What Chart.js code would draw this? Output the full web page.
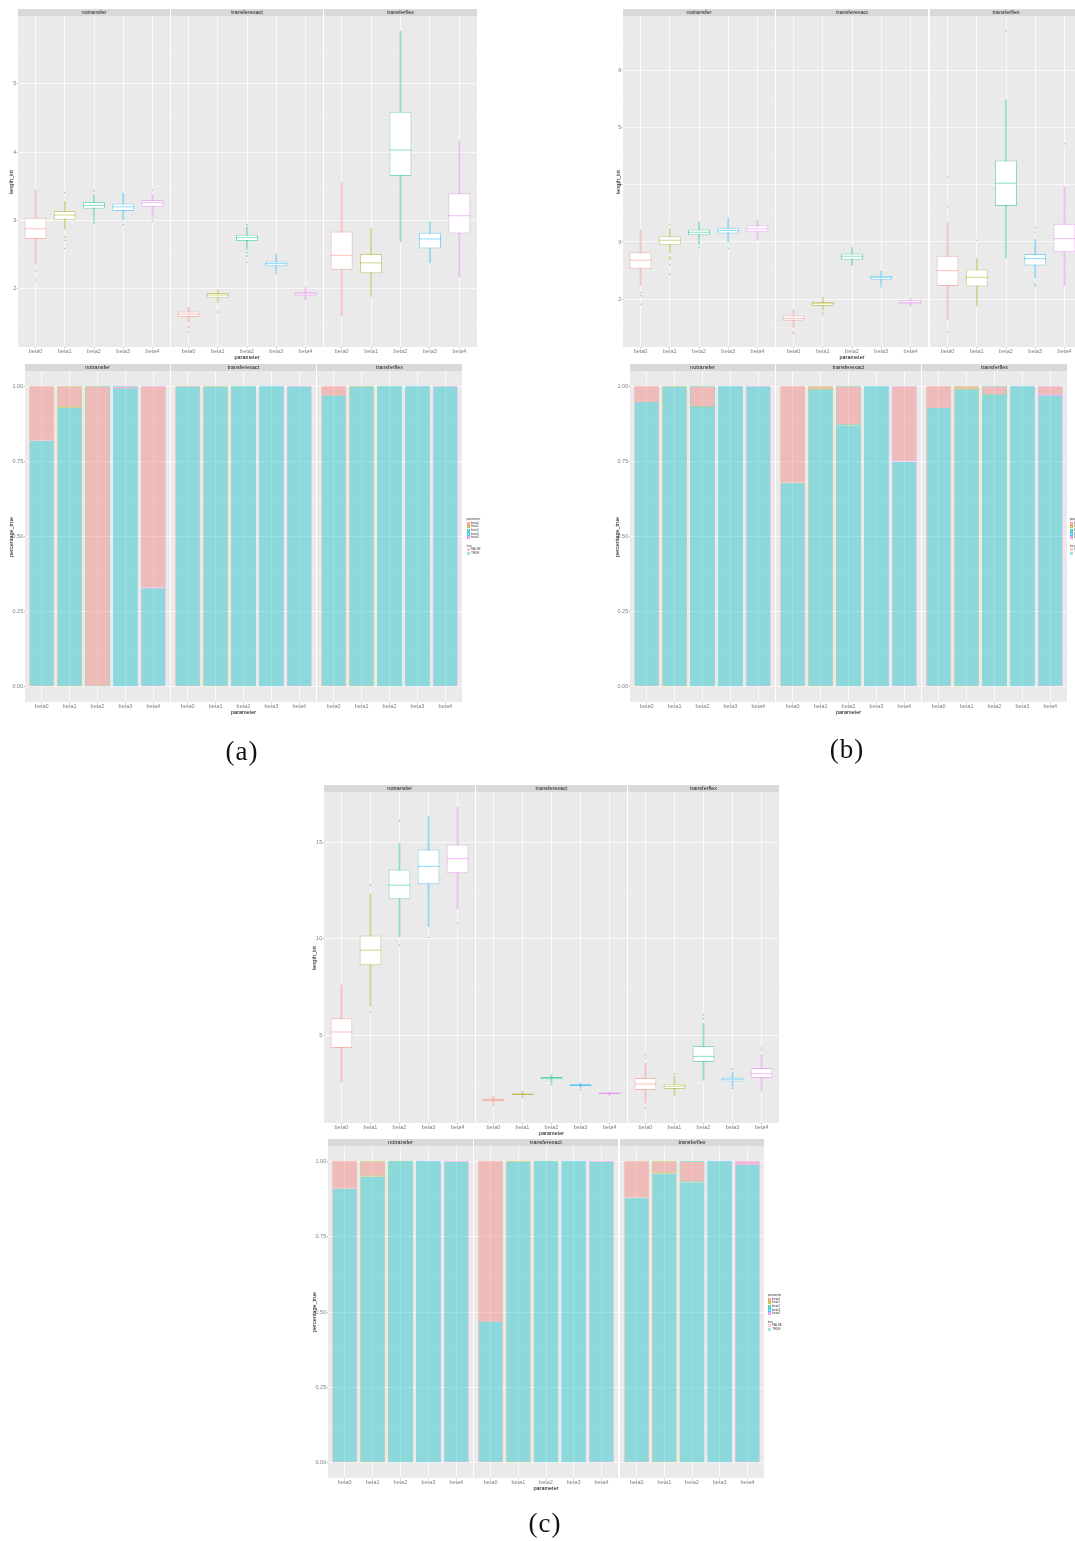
<!DOCTYPE html>
<html>
<head>
<meta charset="utf-8">
<script src="https://cdn.jsdelivr.net/npm/chart.js@4"></script>
<style>
  html, body { margin: 0; padding: 0; background: #fff; }
  body { position: relative; width: 1075px; height: 1541px; overflow: hidden;
         font-family: "Liberation Sans", Arial, sans-serif; }
  canvas { position: absolute; display: block; }
  .strip { position: absolute; height: 7px; background: #D9D9D9; color: #1A1A1A;
           font-size: 5.5px; line-height: 7px; text-align: center; white-space: nowrap; overflow: hidden; }
  .ytitle { position: absolute; font-size: 5.5px; color: #000; white-space: nowrap;
            transform: translate(-50%, -50%) rotate(-90deg); }
  .xtitle { position: absolute; font-size: 5.5px; color: #000; white-space: nowrap;
            transform: translate(-50%, -50%); }
  .sub { position: absolute; font-family: "Liberation Serif", "DejaVu Serif", serif; font-size: 27px;
         letter-spacing: 1px; color: #111; transform: translate(-50%, -50%); white-space: nowrap; }
  .lg-title, .lg-label { position: absolute; font-size: 3px; line-height: 3px; color: #333; white-space: nowrap; }
  .lg-key { position: absolute; width: 3.3px; height: 3.3px; box-sizing: border-box; }
</style>
</head>
<body>
<script>
// ---- categories ----
const PARAMS = ['beta0', 'beta1', 'beta2', 'beta3', 'beta4'];
const FACETS = ['notransfer', 'transferexact', 'transferflex'];

// ---- axis ticks ----
const lengthTicksA = [2, 3, 4, 5];
const lengthTicksB = [2, 3, 4, 5, 6];
const lengthTicksC = [5, 10, 15];
const shareTicks = [0, 0.25, 0.5, 0.75, 1];
const shareTickLabels = ['0.00', '0.25', '0.50', '0.75', '1.00'];

// ---- (a) length_int box statistics, order: facet by facet, beta0..beta4 ----
const aLower  = [2.36, 2.87, 3.05, 3.01, 3.06, 1.51, 1.80, 2.60, 2.26, 1.84, 1.61, 1.89, 2.69, 2.38, 2.18];
const aQ1     = [2.73, 3.01, 3.17, 3.14, 3.20, 1.59, 1.87, 2.70, 2.33, 1.90, 2.28, 2.23, 3.65, 2.59, 2.81];
const aMedian = [2.88, 3.08, 3.22, 3.20, 3.26, 1.63, 1.91, 2.75, 2.37, 1.93, 2.49, 2.38, 4.03, 2.73, 3.07];
const aQ3     = [3.04, 3.14, 3.27, 3.25, 3.30, 1.67, 1.94, 2.79, 2.40, 1.95, 2.84, 2.51, 4.59, 2.82, 3.40];
const aUpper  = [3.44, 3.28, 3.38, 3.40, 3.38, 1.73, 1.99, 2.91, 2.51, 2.02, 3.55, 2.88, 5.77, 2.98, 4.16];
const aOutliers = [[2.26, 2.13], [3.41, 2.76, 2.71, 2.59], [3.43, 3.02, 2.99, 2.96], [2.94], [3.44, 3.03, 2.99],
                   [1.44, 1.37], [1.66], [2.94, 2.58, 2.53, 2.48, 2.39], [2.23], [],
                   [], [], [], [], []];

// ---- (b) length_int box statistics ----
const bLower  = [2.25, 2.81, 2.96, 3.00, 3.03, 1.50, 1.81, 2.59, 2.25, 1.87, 1.64, 1.88, 2.72, 2.37, 2.24];
const bQ1     = [2.53, 2.95, 3.12, 3.15, 3.17, 1.62, 1.88, 2.69, 2.34, 1.91, 2.23, 2.22, 3.63, 2.59, 2.82];
const bMedian = [2.68, 3.03, 3.17, 3.20, 3.23, 1.66, 1.92, 2.75, 2.38, 1.94, 2.50, 2.38, 4.03, 2.71, 3.06];
const bQ3     = [2.82, 3.10, 3.22, 3.25, 3.29, 1.71, 1.95, 2.80, 2.41, 1.98, 2.76, 2.52, 4.43, 2.79, 3.32];
const bUpper  = [3.22, 3.23, 3.35, 3.42, 3.38, 1.81, 2.03, 2.90, 2.49, 2.01, 3.34, 2.71, 5.49, 3.04, 3.96];
const bOutliers = [[2.11, 2.06, 1.91], [3.31, 2.73, 2.70, 2.60, 2.43], [2.90], [2.89], [],
                   [1.42, 1.39], [1.77, 1.73], [], [2.22], [],
                   [3.62, 4.14, 1.42], [3.03], [6.70], [3.25, 3.17, 2.26, 2.23], [4.72]];

// ---- (c) length_int box statistics ----
const cLower  = [2.56, 6.49, 10.10, 10.64, 11.56, 1.47, 1.74, 2.51, 2.25, 1.85, 1.47, 1.87, 2.65, 2.34, 2.08];
const cQ1     = [4.33, 8.63, 12.06, 12.84, 13.41, 1.57, 1.88, 2.70, 2.35, 1.92, 2.15, 2.20, 3.60, 2.59, 2.77];
const cMedian = [5.16, 9.41, 12.79, 13.77, 14.17, 1.64, 1.92, 2.77, 2.40, 1.97, 2.46, 2.34, 3.89, 2.70, 2.99];
const cQ3     = [5.87, 10.17, 13.60, 14.64, 14.90, 1.70, 1.96, 2.82, 2.44, 2.01, 2.77, 2.47, 4.43, 2.80, 3.29];
const cUpper  = [7.60, 12.34, 14.97, 16.37, 16.83, 1.83, 2.08, 2.94, 2.51, 2.04, 3.55, 2.85, 5.62, 3.06, 3.98];
const cOutliers = [[], [12.79, 6.21], [16.14, 9.67], [10.07], [10.81],
                   [1.37], [], [2.42], [2.16], [],
                   [3.98, 3.81, 1.21], [2.99], [6.06, 5.85], [3.24, 2.23], [4.33, 4.22]];

// ---- percentage_true (share of TRUE; the rest of each bar is FALSE) ----
const aTrue = [0.82, 0.93, 0.00, 0.99, 0.33, 1, 1, 1, 1, 1, 0.97, 1, 1, 1, 1];
const bTrue = [0.95, 1, 0.93, 1, 1, 0.68, 0.99, 0.87, 1, 0.75, 0.93, 0.99, 0.97, 1, 0.97];
const cTrue = [0.91, 0.95, 1, 1, 1, 0.47, 1, 1, 1, 1, 0.88, 0.96, 0.93, 1, 0.99];
const truthLevels = ['FALSE', 'TRUE'];

// ---- styling ----
const HUE = ['#F8766D', '#A3A500', '#00BF7D', '#00B0F6', '#E76BF3'];
const TRUTH_HUE = ['#F8766D', '#00BFC4'];
const FONT = '"Liberation Sans", Arial, sans-serif';
const PANEL_BG = '#EAEAEA';
const PAD_L = 18, PAD_B = 9;

function rgba(hex, a) {
  const n = parseInt(hex.slice(1), 16);
  return `rgba(${n >> 16},${(n >> 8) & 255},${n & 255},${a})`;
}

function minorTicks(majors, min, max) {
  const step = majors[1] - majors[0];
  const out = [];
  for (let v = majors[0] - step / 2; v <= max; v += step) if (v >= min) out.push(+v.toFixed(6));
  return out;
}

const panelBg = {
  id: 'panelBg',
  beforeDraw(chart) {
    const { ctx, chartArea: a } = chart;
    ctx.save();
    ctx.fillStyle = PANEL_BG;
    ctx.fillRect(a.left, a.top, a.right - a.left, a.bottom - a.top);
    ctx.restore();
  }
};

function noPad(s) { s.paddingTop = 0; s.paddingBottom = 0; s.paddingLeft = 0; s.paddingRight = 0; }

function xAxisCfg() {
  return {
    type: 'linear', min: 0.4, max: 5.6, offset: false,
    afterBuildTicks: s => { s.ticks = PARAMS.map((_, k) => ({ value: k + 1 })); },
    afterFit: s => { s.height = PAD_B; noPad(s); },
    border: { display: false },
    grid: { color: '#FFFFFF', lineWidth: 0.7, offset: false, drawTicks: true,
            tickLength: 1.2, tickColor: '#8A8A8A', tickWidth: 0.6 },
    ticks: { padding: 0, color: '#7F7F7F', font: { size: 5.5, family: FONT },
             maxRotation: 0, minRotation: 0, autoSkip: false,
             callback: v => PARAMS[Math.round(v) - 1] }
  };
}

function yAxisCfg(p, first) {
  const majors = p.yMajor;
  const all = [...majors, ...minorTicks(majors, p.yMin, p.yMax)].sort((a, b) => a - b);
  const majorIndex = v => majors.findIndex(m => Math.abs(m - v) < 1e-9);
  const isMajor = v => majorIndex(v) >= 0;
  return {
    type: 'linear', min: p.yMin, max: p.yMax, beginAtZero: false,
    afterBuildTicks: s => { s.ticks = all.map(v => ({ value: v })); },
    afterFit: s => { s.width = first ? PAD_L : 0; noPad(s); },
    border: { display: false },
    grid: {
      color: c => isMajor(c.tick.value) ? '#FFFFFF' : '#F2F2F2',
      lineWidth: c => isMajor(c.tick.value) ? 0.7 : 0.5,
      drawTicks: first, tickLength: 1.2, tickWidth: 0.6,
      tickColor: c => isMajor(c.tick.value) ? '#8A8A8A' : 'rgba(0,0,0,0)'
    },
    ticks: {
      display: first, padding: 0.6, color: '#7F7F7F', font: { size: 5.5, family: FONT }, autoSkip: false,
      callback: v => { const i = majorIndex(v); return i < 0 ? '' : p.yLabels[i]; }
    }
  };
}

function boxDatasets(st, f) {
  const idx = PARAMS.map((_, k) => f * 5 + k);
  const lineCol = PARAMS.map((_, k) => rgba(HUE[k], 0.42));
  const halfBox = c => {
    const s = c.chart.scales.x;
    return Math.abs(s.getPixelForValue(2) - s.getPixelForValue(1)) * 0.375;
  };
  const outl = [];
  idx.forEach((i, k) => st.outliers[i].forEach(v => outl.push({ x: k + 1, y: v })));
  return [
    { type: 'bar', label: 'whisker', order: 3, grouped: false,
      data: idx.map((i, k) => ({ x: k + 1, y: [st.lower[i], st.upper[i]] })),
      backgroundColor: lineCol, barThickness: 1, borderWidth: 0 },
    { type: 'bar', label: 'box', order: 2, grouped: false,
      data: idx.map((i, k) => ({ x: k + 1, y: [st.q1[i], st.q3[i]] })),
      backgroundColor: '#FFFFFF', borderColor: lineCol, borderWidth: 1, borderSkipped: false,
      barPercentage: 0.75, categoryPercentage: 1 },
    { type: 'line', label: 'median', order: 1, showLine: false,
      data: idx.map((i, k) => ({ x: k + 1, y: st.median[i] })),
      pointStyle: 'line', pointRadius: halfBox, pointHoverRadius: halfBox,
      pointBorderColor: lineCol, pointBorderWidth: 1.1 },
    { type: 'line', label: 'outlier', order: 0, showLine: false,
      data: outl, pointStyle: 'circle', pointRadius: 0.8, pointBorderWidth: 0,
      pointBackgroundColor: c => (c.raw ? rgba(HUE[c.raw.x - 1], 0.6) : 'rgba(0,0,0,0)') }
  ];
}

function barDatasets(share, f) {
  const idx = PARAMS.map((_, k) => f * 5 + k);
  const edge = PARAMS.map((_, k) => rgba(HUE[k], 0.4));
  const common = { type: 'bar', grouped: false, borderColor: edge, borderWidth: 0.8,
                   borderSkipped: false, barPercentage: 0.9, categoryPercentage: 1 };
  return [
    Object.assign({ label: truthLevels[1], data: idx.map((i, k) => ({ x: k + 1, y: [0, share[i]] })),
                    backgroundColor: rgba(TRUTH_HUE[1], 0.4) }, common),
    Object.assign({ label: truthLevels[0], data: idx.map((i, k) => ({ x: k + 1, y: [share[i], 1] })),
                    backgroundColor: rgba(TRUTH_HUE[0], 0.4) }, common)
  ];
}

function div(parent, cls, css, text) {
  const d = document.createElement('div');
  if (cls) d.className = cls;
  for (const k in css) d.style[k] = typeof css[k] === 'number' ? css[k] + 'px' : css[k];
  if (text != null) d.textContent = text;
  parent.appendChild(d);
  return d;
}

function drawLegend(host, x, y) {
  div(host, 'lg-title', { left: x, top: y - 1.5 }, 'parameter');
  PARAMS.forEach((p, k) => {
    const ky = y + 2.5 + k * 3.65;
    div(host, 'lg-key', { left: x, top: ky, background: rgba(HUE[k], 0.3), border: '0.5px solid ' + rgba(HUE[k], 0.6) });
    div(host, 'lg-label', { left: x + 4.6, top: ky + 0.2 }, p);
  });
  div(host, 'lg-title', { left: x, top: y + 25.5 }, 'true');
  truthLevels.forEach((t, k) => {
    const ky = y + 29 + k * 3.6;
    div(host, 'lg-key', { left: x, top: ky, background: rgba(TRUTH_HUE[k], 0.4) });
    div(host, 'lg-label', { left: x + 4.6, top: ky + 0.2 }, t);
  });
}

function drawPanel(p) {
  const ox = p.clip || 0;
  const host = p.clip
    ? div(document.body, null, { position: 'absolute', left: ox, top: 0, width: 1075 - ox, height: 1541, overflow: 'hidden' })
    : document.body;
  const h = p.bottom - p.top;
  p.facets.forEach(([x0, x1], f) => {
    div(host, 'strip', { left: x0 - ox, top: p.top - 7, width: x1 - x0 }, FACETS[f]);
    const padL = f === 0 ? PAD_L : 0;
    const cv = document.createElement('canvas');
    cv.width = x1 - x0 + padL;
    cv.height = h + PAD_B;
    cv.style.left = (x0 - padL - ox) + 'px';
    cv.style.top = p.top + 'px';
    host.appendChild(cv);
    new Chart(cv, {
      type: 'bar',
      data: { datasets: p.kind === 'box' ? boxDatasets(p.stats, f) : barDatasets(p.share, f) },
      options: {
        responsive: false, animation: false, devicePixelRatio: 1, events: [],
        layout: { padding: 0, autoPadding: false },
        plugins: { legend: { display: false }, tooltip: { enabled: false }, title: { display: false } },
        scales: { x: xAxisCfg(), y: yAxisCfg(p, f === 0) }
      },
      plugins: [panelBg]
    });
  });
  div(host, 'ytitle', { left: p.yTitleX - ox, top: (p.top + p.bottom) / 2 }, p.yTitle);
  const mid = p.facets[1];
  div(host, 'xtitle', { left: (mid[0] + mid[1]) / 2 - ox, top: p.xTitleY }, 'parameter');
  if (p.legend) drawLegend(host, p.legend[0] - ox, p.legend[1]);
}

const lengthLabels = t => t.map(String);

const panels = [
  { kind: 'box', stats: { lower: aLower, q1: aQ1, median: aMedian, q3: aQ3, upper: aUpper, outliers: aOutliers },
    top: 16, bottom: 347, facets: [[18, 170], [171, 323], [324, 477]],
    yMin: 1.15, yMax: 5.99, yMajor: lengthTicksA, yLabels: lengthLabels(lengthTicksA),
    yTitle: 'length_int', yTitleX: 11, xTitleY: 357.3 },
  { kind: 'bar', share: aTrue,
    top: 371, bottom: 702, facets: [[25, 170], [171, 316], [317, 462]],
    yMin: -0.05, yMax: 1.05, yMajor: shareTicks, yLabels: shareTickLabels,
    yTitle: 'percentage_true', yTitleX: 11, xTitleY: 712.3, legend: [466.5, 519] },
  { kind: 'box', stats: { lower: bLower, q1: bQ1, median: bMedian, q3: bQ3, upper: bUpper, outliers: bOutliers },
    top: 16, bottom: 347, facets: [[623, 775], [776, 928], [930, 1082]], clip: 615,
    yMin: 1.16, yMax: 6.96, yMajor: lengthTicksB, yLabels: lengthLabels(lengthTicksB),
    yTitle: 'length_int', yTitleX: 617.5, xTitleY: 357.3 },
  { kind: 'bar', share: bTrue,
    top: 371, bottom: 702, facets: [[630, 775], [776, 921], [922, 1067]], clip: 615,
    yMin: -0.05, yMax: 1.05, yMajor: shareTicks, yLabels: shareTickLabels,
    yTitle: 'percentage_true', yTitleX: 617, xTitleY: 712.3, legend: [1069.7, 519] },
  { kind: 'box', stats: { lower: cLower, q1: cQ1, median: cMedian, q3: cQ3, upper: cUpper, outliers: cOutliers },
    top: 792, bottom: 1123, facets: [[324, 475], [476, 627], [628, 779]],
    yMin: 0.43, yMax: 17.63, yMajor: lengthTicksC, yLabels: lengthLabels(lengthTicksC),
    yTitle: 'length_int', yTitleX: 314, xTitleY: 1132.7 },
  { kind: 'bar', share: cTrue,
    top: 1146, bottom: 1478, facets: [[328, 473], [474, 618], [620, 764]],
    yMin: -0.05, yMax: 1.05, yMajor: shareTicks, yLabels: shareTickLabels,
    yTitle: 'percentage_true', yTitleX: 314, xTitleY: 1488, legend: [767.7, 1295] }
];

panels.forEach(drawPanel);

div(document.body, 'sub', { left: 242, top: 751 }, '(a)');
div(document.body, 'sub', { left: 847, top: 749 }, '(b)');
div(document.body, 'sub', { left: 545, top: 1523 }, '(c)');
</script>
</body>
</html>
